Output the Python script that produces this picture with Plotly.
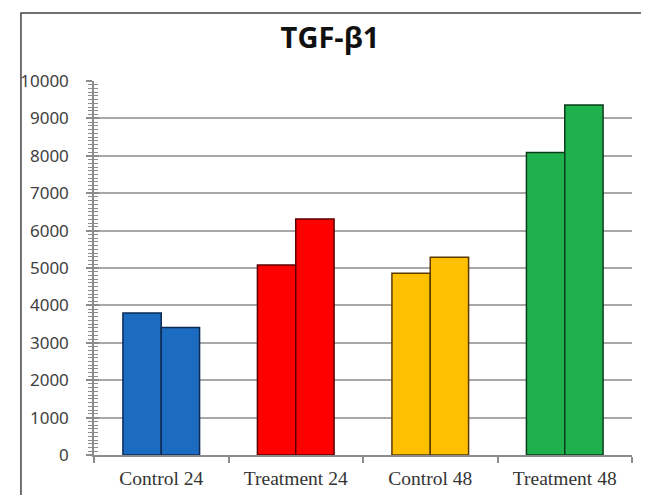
import plotly.graph_objects as go

categories = ["Control 24", "Treatment 24", "Control 48", "Treatment 48"]
first_bar = [3800, 5080, 4860, 8090]
second_bar = [3410, 6310, 5290, 9360]
fill_colors = ["#1b6cc1", "#ff0000", "#ffc000", "#1fb14c"]
edge_colors = ["#0d2a55", "#5a0000", "#5a3a00", "#0b3d1a"]
title_text = "TGF-β1"
y_ticks = [0, 1000, 2000, 3000, 4000, 5000, 6000, 7000, 8000, 9000, 10000]
y_labels = ["0", "1000", "2000", "3000", "4000", "5000", "6000", "7000", "8000", "9000", "10000"]

fig = go.Figure()
for vals in (first_bar, second_bar):
    fig.add_trace(go.Bar(
        x=categories, y=vals,
        marker=dict(color=fill_colors, line=dict(color=edge_colors, width=1.5)),
        showlegend=False,
    ))
# invisible trace to host the overlay y axis used for crossing ticks
fig.add_trace(go.Scatter(x=categories, y=[None]*4, yaxis="y2", showlegend=False, hoverinfo="skip"))

OFF = 8  # page body margin
W, H = 649, 495
L, R, T, B = 87 - OFF, 632 - OFF, 81 - OFF, 455 - OFF
pw, ph = R - L, B - T

def px(x):
    return (x - OFF - L) / pw

def py(y):
    return (B - (y - OFF)) / ph

fig.update_layout(
    width=W, height=H,
    margin=dict(l=L, r=W - R, t=T, b=H - B),
    paper_bgcolor="white", plot_bgcolor="white",
    barmode="group", bargap=0.43, bargroupgap=0,
    title=dict(text=f"<b>{title_text}</b>", x=(330 - OFF) / W, xref="container", xanchor="center",
               y=1 - (38 - OFF) / H, yref="container", yanchor="middle",
               font=dict(family="Open Sans, Noto Sans, sans-serif", size=29, color="#111")),
    xaxis=dict(
        showline=True, linecolor="#8c8c8c", linewidth=1.5,
        ticks="outside", tickson="boundaries", ticklen=6, tickcolor="#8c8c8c", tickwidth=1.5,
        ticklabelstandoff=5,
        tickfont=dict(family="Liberation Serif, Times New Roman, serif", size=19.5, color="#333"),
        showgrid=False,
    ),
    yaxis=dict(
        range=[0, 10000], tickvals=y_ticks, ticktext=y_labels,
        showline=True, linecolor="#8c8c8c", linewidth=1.5,
        ticks="outside", ticklen=6, tickcolor="#8c8c8c", tickwidth=1.5,
        minor=dict(dtick=100, ticks="outside", ticklen=4, tickcolor="#8c8c8c", tickwidth=1, showgrid=False),
        showgrid=True, gridcolor="#a8a8a8", gridwidth=2,
        zeroline=False,
        ticklabelstandoff=14,
        tickfont=dict(family="Noto Sans, Open Sans, sans-serif", size=17, color="#404040"),
    ),
    yaxis2=dict(
        overlaying="y", side="left", range=[0, 10000], tickvals=y_ticks,
        showticklabels=False, showgrid=False, zeroline=False, showline=False,
        ticks="inside", ticklen=5, tickcolor="#8c8c8c", tickwidth=1.5,
        minor=dict(dtick=100, ticks="inside", ticklen=4, tickcolor="#8c8c8c", tickwidth=1, showgrid=False),
    ),
    shapes=[dict(type="rect", xref="paper", yref="paper",
                 x0=px(13), x1=px(644), y0=py(520), y1=py(13),
                 line=dict(color="#444", width=1.5), fillcolor="rgba(0,0,0,0)", layer="below")],
)

fig.write_html("out.html")
